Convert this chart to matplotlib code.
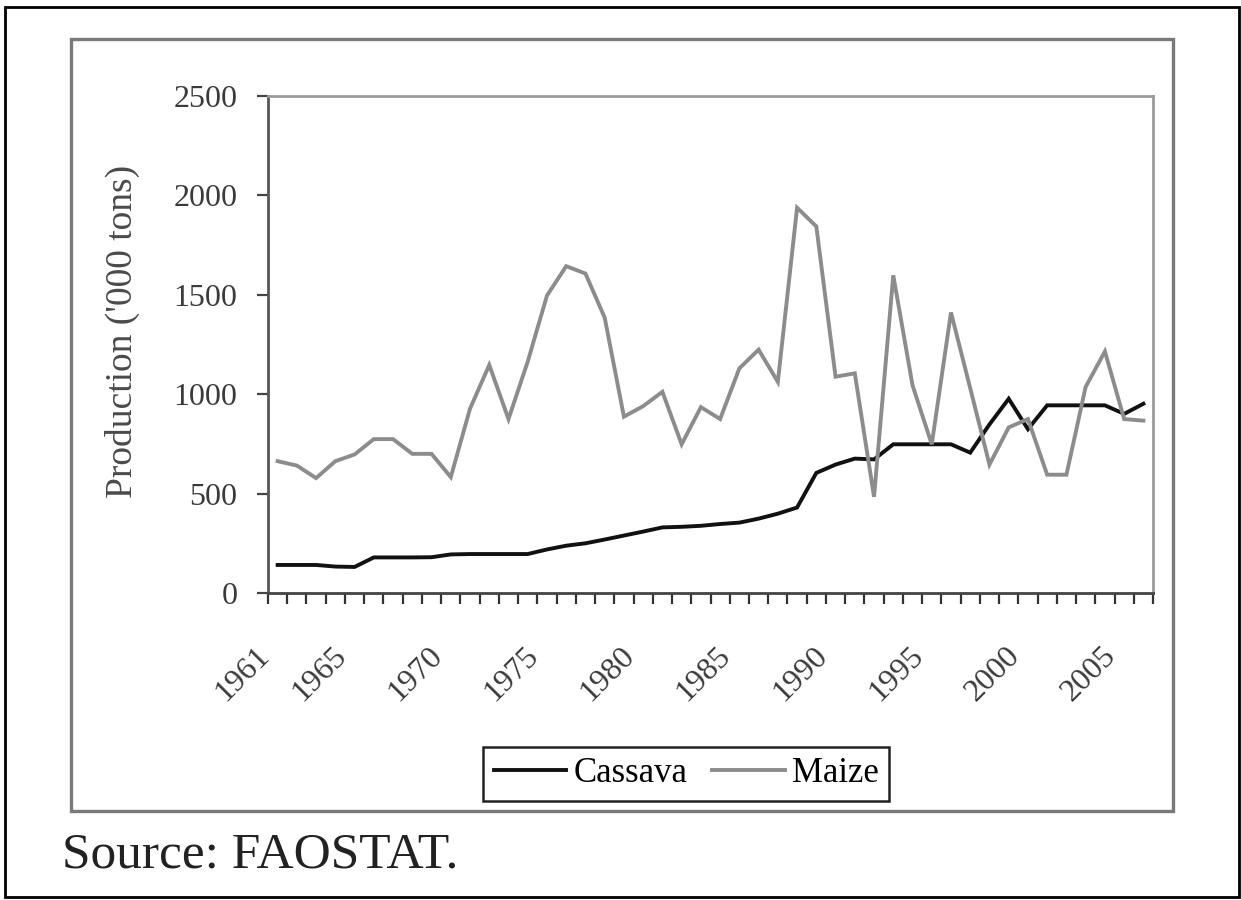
"""Cassava and maize production, 1961-2006 (FAOSTAT)"""

import matplotlib

matplotlib.use("Agg")
import matplotlib.pyplot as plt
from matplotlib.patches import Rectangle
from matplotlib.transforms import ScaledTranslation

# Data ('000 tons)
years = list(range(1961, 2007))
cassava = [141, 141, 141, 133, 131, 179, 179, 179, 180, 194,
           196, 196, 196, 196, 219, 238, 250, 269, 289, 309,
           330, 333, 338, 347, 354, 374, 399, 430, 604, 646,
           676, 672, 748, 748, 748, 748, 706, 848, 977, 824,
           944, 944, 944, 944, 901, 952]
maize = [663, 641, 578, 663, 697, 774, 774, 700, 700, 583,
         927, 1147, 875, 1164, 1496, 1644, 1607, 1385, 887, 940,
         1012, 748, 935, 875, 1130, 1224, 1062, 1938, 1844, 1088,
         1105, 484, 1598, 1045, 748, 1411, 1030, 646, 833, 875,
         595, 595, 1037, 1215, 875, 867]
year_labels = [1961, 1965, 1970, 1975, 1980, 1985, 1990, 1995, 2000, 2005]
y_ticks = [0, 500, 1000, 1500, 2000, 2500]

plt.rcParams["font.family"] = ["Liberation Serif", "DejaVu Serif"]

W, H = 1241, 900
fig = plt.figure(figsize=(W / 100, H / 100), dpi=100)

# outer border and chart frame
fig.patches.append(Rectangle((5 / W, 1 - 897 / H), 1234 / W, 890 / H, transform=fig.transFigure,
                             fill=False, edgecolor="black", linewidth=2.0))
fig.patches.append(Rectangle((71 / W, 1 - 811 / H), 1102 / W, 772 / H, transform=fig.transFigure,
                             fill=False, edgecolor="#7a7a7a", linewidth=2.4))

ax = fig.add_axes([268 / W, 1 - 593 / H, 885 / W, 497 / H])

x = list(range(len(years)))
ax.plot(x, cassava, color="#111111", linewidth=2.8, label="Cassava", solid_joinstyle="miter")
ax.plot(x, maize, color="#8c8c8c", linewidth=2.8, label="Maize", solid_joinstyle="miter")

ax.set_xlim(-0.5, len(years) - 0.5)
ax.set_ylim(0, 2500)
ax.set_yticks(y_ticks)

# category boundary ticks, labels at selected years
ax.set_xticks([i - 0.5 for i in range(len(years) + 1)], minor=True)
ax.set_xticks([years.index(y) for y in year_labels])
ax.set_xticklabels([str(y) for y in year_labels], rotation=45, ha="right", va="top",
                   rotation_mode="anchor")
ax.tick_params(axis="x", which="major", length=0, pad=35, labelsize=23, labelcolor="#3a3a3a")
ax.tick_params(axis="x", which="minor", length=8, width=1.6, color="#333333", direction="out")
ax.tick_params(axis="y", length=8, width=1.6, color="#444444", pad=14, labelsize=23,
               labelcolor="#3a3a3a")
offset = ScaledTranslation(-0.23, 0, fig.dpi_scale_trans)
for lab in ax.get_xticklabels():
    lab.set_transform(lab.get_transform() + offset)

ax.spines["left"].set_color("#555555")
ax.spines["bottom"].set_color("#444444")
ax.spines["top"].set_color("#9a9a9a")
ax.spines["right"].set_color("#9a9a9a")
for s in ax.spines.values():
    s.set_linewidth(2.0)

ax.set_ylabel("Production ('000 tons)", fontsize=27, color="#4a4a4a")
ax.yaxis.set_label_coords(-0.145, 0.527)

fig.legend(loc="center", bbox_to_anchor=(686 / W, 1 - 774 / H), ncol=2, fontsize=25,
           frameon=True, fancybox=False, edgecolor="#222222", framealpha=1,
           handlelength=2.1, handletextpad=0.2, columnspacing=0.7, borderpad=0.3,
           borderaxespad=0.0)
fig.legends[0].get_frame().set_linewidth(1.8)

fig.text(62 / W, 1 - 867 / H, "Source: FAOSTAT.", fontsize=37, color="#222222",
         ha="left", va="baseline")

plt.savefig("out.png", dpi=100)
plt.close()
